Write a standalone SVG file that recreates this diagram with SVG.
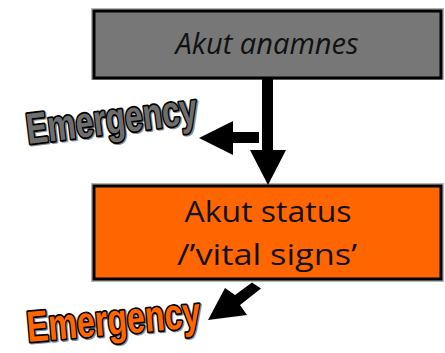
<svg xmlns="http://www.w3.org/2000/svg" width="445" height="353" viewBox="0 0 445 353">
  <style>
    .box { stroke: #000; stroke-width: 3; }
    .halo { fill: none; stroke: #b4b4b4; stroke-width: 2; }
    .label { font-family: "Open Sans", "Noto Sans", "Liberation Sans", sans-serif; font-size: 29px; fill: #111; text-anchor: middle; }
    .wordart { font-family: "Liberation Sans", Arial, sans-serif; font-weight: bold; font-size: 30px; stroke: #000; stroke-width: 2.4; paint-order: stroke; stroke-linejoin: round; }
    .arrow { fill: #000; }
  </style>

  <!-- Acute history box -->
  <g id="akut-anamnes">
    <rect class="halo" x="92" y="9" width="351" height="70"/>
    <rect class="box" x="94" y="11" width="347" height="67" fill="#777777"/>
    <text class="label" x="267" y="54" font-style="italic" textLength="183" lengthAdjust="spacingAndGlyphs">Akut anamnes</text>
  </g>

  <!-- Acute status box -->
  <g id="akut-status">
    <rect class="halo" x="92" y="184" width="351" height="97"/>
    <rect class="box" x="94" y="186" width="347" height="93" fill="#ff6600"/>
    <text class="label" x="268" y="222" textLength="167" lengthAdjust="spacingAndGlyphs">Akut status</text>
    <text class="label" x="267" y="265" textLength="180" lengthAdjust="spacingAndGlyphs">/’vital signs’</text>
  </g>

  <!-- Emergency labels -->
  <g id="emergency-top">
    <g transform="translate(28,144) rotate(-7) scale(1,1.45)">
      <text x="1.2" y="0.8" class="wordart" fill="#555" stroke="#555" opacity="0.45" textLength="172" lengthAdjust="spacingAndGlyphs">Emergency</text>
      <text x="0" y="0" class="wordart" fill="#6e6e6e" textLength="172" lengthAdjust="spacingAndGlyphs">Emergency</text>
    </g>
  </g>
  <g id="emergency-bottom">
    <g transform="translate(28,342) rotate(-5) scale(1,1.45)">
      <text x="1.2" y="0.8" class="wordart" fill="#555" stroke="#555" opacity="0.45" textLength="174" lengthAdjust="spacingAndGlyphs">Emergency</text>
      <text x="0" y="0" class="wordart" fill="#ff6600" textLength="174" lengthAdjust="spacingAndGlyphs">Emergency</text>
    </g>
  </g>

  <!-- Connectors -->
  <g id="connectors">
    <!-- down: history to status -->
    <polygon class="arrow" points="262,78 273,78 273,150 286,150 268,185 250,150 262,150"/>
    <!-- left: history to emergency -->
    <polygon class="arrow" points="259,132 259,143 233,143 233,155 199,138 233,121 233,132"/>
    <!-- diagonal: status to emergency -->
    <polygon class="arrow" points="252,282.5 261,288.5 240,305 247,315 208,320 225,288 235,295"/>
  </g>
</svg>
